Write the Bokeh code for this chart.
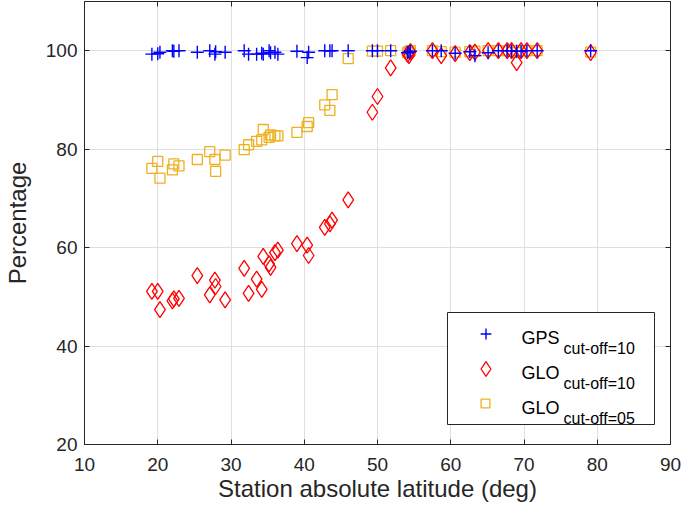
from bokeh.plotting import figure
from bokeh.models import (ColumnDataSource, FixedTicker, LinearAxis, Legend,
                          LegendItem, Label, Range1d, BoxAnnotation)
from bokeh.embed import file_html
from bokeh.resources import INLINE

# ---- data ----
latitude = [19.2, 20.0, 20.3, 22.0, 22.2, 22.9, 25.4, 27.1, 27.8, 27.9,
            29.2, 31.8, 32.4, 33.5, 34.2, 34.4, 35.2, 35.4, 36.0, 36.4,
            39.0, 40.4, 40.6, 42.8, 43.5, 43.8, 46.0, 49.3, 50.0, 51.8,
            54.1, 54.3, 54.5, 57.5, 58.7, 60.6, 62.6, 63.3, 65.1, 66.5,
            67.7, 68.3, 69.0, 69.6, 70.4, 71.8, 79.1]
gps_cut10 = [99.3, 99.4, 99.7, 100.0, 99.9, 100.0, 99.7, 100.0, 99.3, 99.8,
             99.7, 100.0, 99.3, 99.3, 99.5, 99.3, 100.0, 99.6, 99.7, 99.3,
             99.9, 98.6, 99.7, 100.0, 100.0, 100.0, 100.0, 100.0, 100.0, 100.0,
             99.6, 99.7, 99.9, 100.0, 100.0, 99.5, 99.8, 99.0, 99.6, 100.0,
             100.0, 100.0, 99.9, 99.9, 100.0, 100.0, 100.0]
glo_cut10 = [51.1, 51.1, 47.4, 49.2, 49.6, 49.7, 54.3, 50.4, 53.4, 52.1,
             49.4, 55.8, 50.7, 53.6, 51.5, 58.2, 56.7, 56.0, 59.0, 59.5,
             60.8, 60.5, 58.4, 64.1, 64.8, 65.6, 69.7, 87.5, 90.7, 96.5,
             99.3, 99.0, 99.8, 100.0, 99.0, 99.4, 99.6, 99.7, 100.0, 100.0,
             100.0, 100.0, 97.6, 100.0, 100.0, 100.0, 99.6]
glo_cut05 = [76.1, 77.5, 74.1, 75.8, 77.0, 76.6, 77.9, 79.5, 77.9, 75.5,
             78.8, 79.9, 80.9, 81.6, 81.9, 84.0, 82.4, 82.9, 82.7, 82.7,
             83.4, 84.6, 85.4, 89.0, 87.9, 91.1, 98.4, 99.9, 99.9, 100.0,
             99.6, 99.8, 100.0, 100.0, 99.8, 99.7, 99.8, 99.9, 100.0, 100.0,
             100.0, 100.0, 99.6, 100.0, 100.0, 100.0, 99.7]
x_ticks = [10, 20, 30, 40, 50, 60, 70, 80, 90]
y_ticks = [20, 40, 60, 80, 100]
legend_main = ["GPS", "GLO", "GLO"]
legend_sub = ["cut-off=10", "cut-off=10", "cut-off=05"]

FONT = "Liberation Sans"
AX = "#262626"
BLUE, RED, GOLD = "#0000FF", "#FF0000", "#EDB120"

src = ColumnDataSource(dict(lat=latitude, gps=gps_cut10, g10=glo_cut10, g05=glo_cut05))

p = figure(width=685, height=511, x_range=Range1d(10, 90), y_range=Range1d(20, 110),
           output_backend="svg", toolbar_location=None,
           min_border_left=79, min_border_right=15, min_border_top=1, min_border_bottom=67)
p.outline_line_color = None
p.background_fill_color = "white"

# grid
p.xgrid.ticker = FixedTicker(ticks=x_ticks)
p.ygrid.ticker = FixedTicker(ticks=y_ticks)
for g in (p.xgrid, p.ygrid):
    g.grid_line_color = "#dfdfdf"
    g.grid_line_width = 1

def style_axis(ax, ticks, show_labels=True):
    ax.ticker = FixedTicker(ticks=ticks)
    ax.axis_line_color = AX
    ax.axis_line_width = 1
    ax.major_tick_line_color = AX
    ax.major_tick_in = 5
    ax.major_tick_out = 0
    ax.minor_tick_line_color = None
    if show_labels:
        ax.major_label_text_font = FONT
        ax.major_label_text_font_size = "19px"
        ax.major_label_text_color = AX
        ax.axis_label_text_font = FONT
        ax.axis_label_text_font_size = "24px"
        ax.axis_label_text_font_style = "normal"
        ax.axis_label_text_color = AX
    else:
        # tick marks only (box axes on top / right)
        ax.major_label_text_font_size = "0px"
        ax.major_label_text_color = None
        ax.major_label_standoff = 0

xa = p.xaxis[0]
ya = p.yaxis[0]
style_axis(xa, x_ticks)
style_axis(ya, y_ticks)
xa.axis_label = "Station absolute latitude (deg)"
ya.axis_label = "Percentage"
xa.major_label_standoff = 13
xa.axis_label_standoff = 1
ya.major_label_standoff = 7
ya.axis_label_standoff = 12
ya.major_label_orientation = "horizontal"

top = LinearAxis()
right = LinearAxis()
style_axis(top, x_ticks, False)
style_axis(right, y_ticks, False)
p.add_layout(top, "above")
p.add_layout(right, "right")

# data
r05 = p.scatter("lat", "g05", source=src, marker="square", size=10,
                fill_color=None, line_color=GOLD, line_width=1.3)
r10 = p.scatter("lat", "g10", source=src, marker="diamond", size=16,
                fill_color=None, line_color=RED, line_width=1.3)
rgps = p.scatter("lat", "gps", source=src, marker="cross", size=13,
                 line_color=BLUE, line_width=1.4)

# legend frame (screen units relative to the plot frame)
p.add_layout(BoxAnnotation(left=363, right=570, bottom=20, top=132,
                           left_units="screen", right_units="screen",
                           bottom_units="screen", top_units="screen",
                           fill_color="white", fill_alpha=1,
                           line_color=AX, line_width=1, line_alpha=1))

# one legend per entry so each marker gets its own size
legend_renderers = [rgps, r10, r05]
legend_box = [27, 37, 22]          # glyph box -> marker size = 0.4 * box
row_center = [111, 76, 41]
for r, b, yc in zip(legend_renderers, legend_box, row_center):
    lg = Legend(items=[LegendItem(label=" ", renderers=[r])],
                location=(401 - b / 2, yc - b / 2), margin=0, padding=0, spacing=0,
                glyph_width=b, glyph_height=b, label_height=b, label_width=1,
                label_standoff=0, label_text_font_size="1px", label_text_color=None,
                border_line_color=None, background_fill_alpha=0)
    p.add_layout(lg)

for i, (m, s) in enumerate(zip(legend_main, legend_sub)):
    p.add_layout(Label(x=437, y=107 - 35 * i, x_units="screen", y_units="screen",
                       text=m, text_font=FONT, text_font_size="18px", level="overlay",
                       text_color="black", text_baseline="alphabetic", text_align="left"))
    p.add_layout(Label(x=479, y=96 - 35 * i, x_units="screen", y_units="screen",
                       text=s, text_font=FONT, text_font_size="16px", level="overlay",
                       text_color="black", text_baseline="alphabetic", text_align="left"))

open("out.html", "w").write(file_html(p, INLINE))
